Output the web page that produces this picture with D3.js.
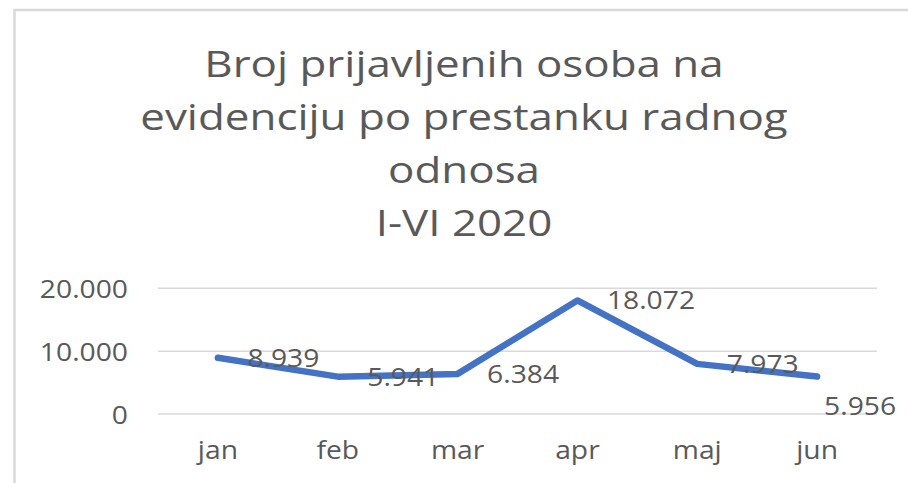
<!DOCTYPE html>
<html>
<head>
<meta charset="utf-8">
<script src="https://cdn.jsdelivr.net/npm/d3@7"></script>
<style>
  html, body { margin: 0; padding: 0; background: #fff; }
  svg { display: block; }
  text { font-family: "Open Sans", sans-serif; fill: #595959; }
</style>
</head>
<body>
<svg id="chart" width="908" height="483"></svg>
<script>
const titleLines = ["Broj prijavljenih osoba na", "evidenciju po prestanku radnog", "odnosa", "I-VI 2020"];
const categories = ["jan", "feb", "mar", "apr", "maj", "jun"];
const values = [8939, 5941, 6384, 18072, 7973, 5956];
const yTicks = [0, 10000, 20000];

const W = 908, H = 483;
const stretch = 1.13;
const titleStretch = 1.22;
const svg = d3.select("#chart");

// chart area border (extends beyond right/bottom edges)
svg.append("rect")
  .attr("x", 14.5).attr("y", 10).attr("width", 1000).attr("height", 1000)
  .attr("fill", "#fff").attr("stroke", "#d9d9d9").attr("stroke-width", 2.5);

const x = d3.scaleBand().domain(categories).range([158, 877]).padding(0);
const y = d3.scaleLinear().domain([0, 20000]).range([414, 288.3]);
const fmt = d3.formatLocale({decimal: ",", thousands: ".", grouping: [3], currency: ["", ""]}).format(",d");

function stretchedText(sel, tx, ty, anchor, s) {
  return sel.attr("transform", `translate(${tx},${ty}) scale(${s || stretch},1)`).attr("text-anchor", anchor);
}

// title
const title = svg.append("g");
titleLines.forEach((t, i) => {
  stretchedText(title.append("text"), 464, 77 + 53 * i, "middle", titleStretch)
    .attr("font-size", 36).text(t);
});

// gridlines
const grid = svg.append("g");
grid.selectAll("line").data(yTicks).join("line")
  .attr("x1", x.range()[0]).attr("x2", x.range()[1])
  .attr("y1", d => y(d)).attr("y2", d => y(d))
  .attr("stroke", "#d9d9d9").attr("stroke-width", 1.5);

// y axis labels
const yAxis = d3.axisLeft(y).tickValues(yTicks).tickFormat(fmt).tickSize(0).tickPadding(0);
const yg = svg.append("g").attr("transform", "translate(128,0)").call(yAxis);
yg.select(".domain").remove();
yg.selectAll(".tick text")
  .attr("font-family", null).attr("fill", "#595959").attr("font-size", 25)
  .attr("x", null).attr("dy", null).attr("y", 9)
  .attr("transform", `scale(${stretch},1)`)
  .attr("text-anchor", "end");

// x axis labels
const xAxis = d3.axisBottom(x).tickSize(0).tickPadding(0);
const xg = svg.append("g").attr("transform", "translate(0,459)").call(xAxis);
xg.select(".domain").remove();
xg.selectAll(".tick text")
  .attr("font-family", null).attr("fill", "#595959").attr("font-size", 25)
  .attr("y", 0).attr("dy", null)
  .attr("transform", `scale(${stretch},1)`);

// line
const line = d3.line().x((d, i) => x(categories[i]) + x.bandwidth() / 2).y(d => y(d));
svg.append("path").datum(values)
  .attr("d", line)
  .attr("fill", "none").attr("stroke", "#4472C4").attr("stroke-width", 6.5)
  .attr("stroke-linecap", "round").attr("stroke-linejoin", "round");

// data labels (right of point; last one pushed down/left to stay inside)
const labels = svg.append("g");
values.forEach((v, i) => {
  const px = x(categories[i]) + x.bandwidth() / 2;
  const py = y(v);
  const last = i === values.length - 1;
  const lx = last ? px + 7 : px + 29.5;
  const ly = last ? py + 38 : py + 9;
  stretchedText(labels.append("text"), lx, ly, "start")
    .attr("font-size", 25).text(fmt(v));
});
</script>
</body>
</html>
